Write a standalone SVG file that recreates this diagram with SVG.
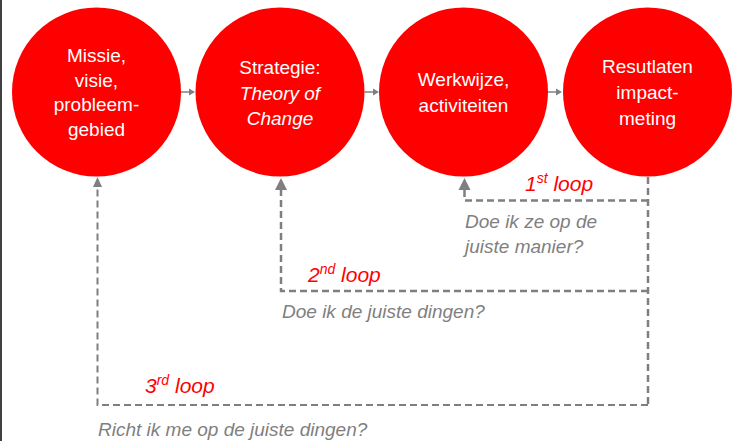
<svg xmlns="http://www.w3.org/2000/svg" width="738" height="441" viewBox="0 0 738 441">
<style>
.node{fill:#FF0000}
.nt{fill:#FFFFFF;font-family:"Liberation Sans",Arial,sans-serif;font-size:19px;text-anchor:middle}
.it{font-style:italic}
.loop{fill:none;stroke:#7F7F7F;stroke-width:2.5;stroke-dasharray:7 4}
.flow{stroke:#7F7F7F;stroke-width:1.5;fill:none}
.lbl{fill:#FF0000;font-family:"Liberation Sans",Arial,sans-serif;font-size:21px;font-style:italic}
.q{fill:#7F7F7F;font-family:"Liberation Sans",Arial,sans-serif;font-size:19px;font-style:italic}
.ah{fill:#7F7F7F}
</style>
<rect x="0" y="0" width="738" height="441" fill="#FFFFFF"/>
<line x1="1" y1="0" x2="1" y2="441" stroke="#404040" stroke-width="2"/>
<g id="node-missie">
<circle class="node" cx="96.5" cy="92" r="84.5"/>
<text class="nt" x="96.5" y="62">Missie,</text>
<text class="nt" x="96.5" y="86.5">visie,</text>
<text class="nt" x="96.5" y="111">probleem-</text>
<text class="nt" x="96.5" y="136">gebied</text>
</g>
<g id="node-strategie">
<circle class="node" cx="280" cy="92" r="84.5"/>
<text class="nt" x="280" y="74">Strategie:</text>
<text class="nt it" x="280" y="99.5">Theory of</text>
<text class="nt it" x="280" y="125">Change</text>
</g>
<g id="node-werkwijze">
<circle class="node" cx="463.5" cy="92" r="84.5"/>
<text class="nt" x="463.5" y="86">Werkwijze,</text>
<text class="nt" x="463.5" y="112">activiteiten</text>
</g>
<g id="node-resultaten">
<circle class="node" cx="647.5" cy="92" r="84.5"/>
<text class="nt" x="647.5" y="73">Resutlaten</text>
<text class="nt" x="647.5" y="99">impact-</text>
<text class="nt" x="647.5" y="125">meting</text>
</g>
<g id="connectors">
<line class="flow" x1="181" y1="92" x2="190" y2="92"/>
<path class="ah" d="M195,92 L189,88.5 L189,95.5 Z"/>
<line class="flow" x1="364.5" y1="92" x2="374" y2="92"/>
<path class="ah" d="M379,92 L373,88.5 L373,95.5 Z"/>
<line class="flow" x1="548" y1="92" x2="557" y2="92"/>
<path class="ah" d="M562,92 L556,88.5 L556,95.5 Z"/>
<path class="loop" d="M648,177 L648,405"/>
<path class="loop" d="M648,200.5 L464.5,200.5 L464.5,190"/>
<path class="ah" d="M464.5,178 L458.5,190 L470.5,190 Z"/>
<path class="loop" d="M648,291 L281,291 L281,190"/>
<path class="ah" d="M281,178 L275,190 L287,190 Z"/>
<path class="loop" style="stroke-width:2" d="M648,405 L97.5,405 L97.5,187"/>
<path class="ah" d="M97.5,177 L93,187 L102,187 Z"/>
</g>
<g id="labels">
<text class="lbl" x="525" y="191">1<tspan font-size="14" dy="-8">st</tspan><tspan dy="8"> loop</tspan></text>
<text class="q" x="465" y="228">Doe ik ze op de</text>
<text class="q" x="465" y="253">juiste manier?</text>
<text class="lbl" x="308" y="282">2<tspan font-size="14" dy="-8">nd</tspan><tspan dy="8"> loop</tspan></text>
<text class="q" x="282" y="318">Doe ik de juiste dingen?</text>
<text class="lbl" x="145" y="393">3<tspan font-size="14" dy="-8">rd</tspan><tspan dy="8"> loop</tspan></text>
<text class="q" x="98" y="436">Richt ik me op de juiste dingen?</text>
</g>
</svg>
